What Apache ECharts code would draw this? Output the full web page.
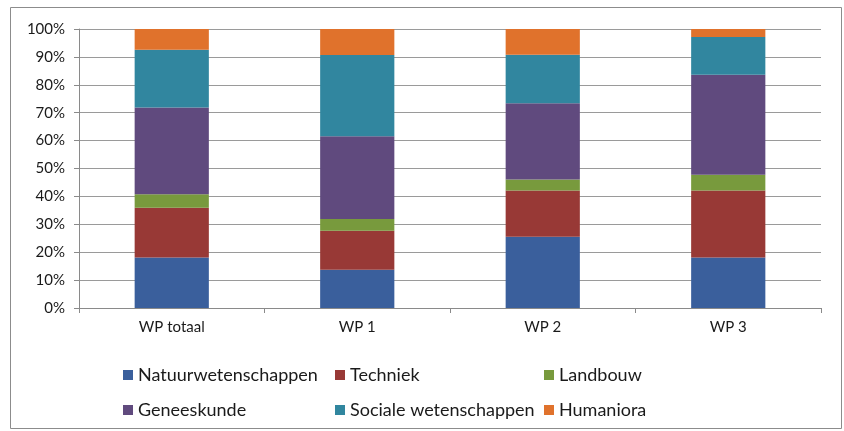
<!DOCTYPE html>
<html>
<head>
<meta charset="utf-8">
<script src="https://cdn.jsdelivr.net/npm/echarts@6/dist/echarts.min.js"></script>
<style>html,body{margin:0;padding:0;background:#fff}#c{width:844px;height:431px}</style>
</head>
<body>
<div id="c"></div>
<script>
const categories = ['WP totaal', 'WP 1', 'WP 2', 'WP 3'];
const natuurwetenschappen = [18.1, 13.7, 25.5, 18.1];
const techniek = [17.8, 14.0, 16.6, 24.0];
const landbouw = [4.9, 4.2, 4.0, 5.7];
const geneeskunde = [31.1, 29.7, 27.3, 35.8];
const socialeWetenschappen = [20.7, 29.1, 17.4, 13.5];
const humaniora = [7.4, 9.3, 9.2, 2.9];
const yTicks = [0, 10, 20, 30, 40, 50, 60, 70, 80, 90, 100];

const seriesNames = ['Natuurwetenschappen', 'Techniek', 'Landbouw', 'Geneeskunde', 'Sociale wetenschappen', 'Humaniora'];
const seriesData = [natuurwetenschappen, techniek, landbouw, geneeskunde, socialeWetenschappen, humaniora];
const colors = ['#3a5f9c', '#983936', '#789a3d', '#604a7e', '#31869f', '#e0722c'];

const FONT = 'Lato';
const legendPos = [
  {left: 118, top: 361}, {left: 330, top: 361}, {left: 539, top: 361},
  {left: 118, top: 396}, {left: 330, top: 396}, {left: 539, top: 396}
];

const chart = echarts.init(document.getElementById('c'), null, {renderer: 'canvas'});
chart.setOption({
  animation: false,
  color: colors,
  graphic: [{
    type: 'rect',
    shape: {x: 10.5, y: 7.5, width: 831, height: 421},
    style: {fill: 'none', stroke: '#8c8c8c', lineWidth: 1}
  }],
  grid: {left: 79, right: 23, top: 29, bottom: 123},
  legend: legendPos.map((p, i) => ({
    left: p.left, top: p.top,
    data: [seriesNames[i]],
    itemWidth: 10, itemHeight: 10, itemGap: 4,
    icon: 'rect',
    textStyle: {fontFamily: FONT, fontSize: 18, color: '#1a1a1a', padding: [0, 0, 0, 0]}
  })),
  xAxis: {
    type: 'category',
    data: categories,
    axisLine: {lineStyle: {color: '#8a8a8a', width: 1}},
    axisTick: {show: true, alignWithLabel: false, length: 5, lineStyle: {color: '#8a8a8a'}},
    axisLabel: {fontFamily: FONT, fontSize: 15, color: '#1a1a1a', margin: 12}
  },
  yAxis: {
    type: 'value',
    min: 0, max: 100, interval: 10,
    axisLine: {show: true, lineStyle: {color: '#8a8a8a', width: 1}},
    axisTick: {show: true, length: 5, lineStyle: {color: '#8a8a8a'}},
    splitLine: {lineStyle: {color: '#9a9a9a', width: 1}},
    axisLabel: {
      fontFamily: FONT, fontSize: 15, color: '#1a1a1a', margin: 14,
      formatter: v => yTicks.includes(v) ? v + '%' : ''
    }
  },
  series: seriesNames.map((name, i) => ({
    name: name,
    type: 'bar',
    stack: 'total',
    barWidth: '40%',
    data: seriesData[i],
    itemStyle: {color: colors[i]}
  }))
});
</script>
</body>
</html>
